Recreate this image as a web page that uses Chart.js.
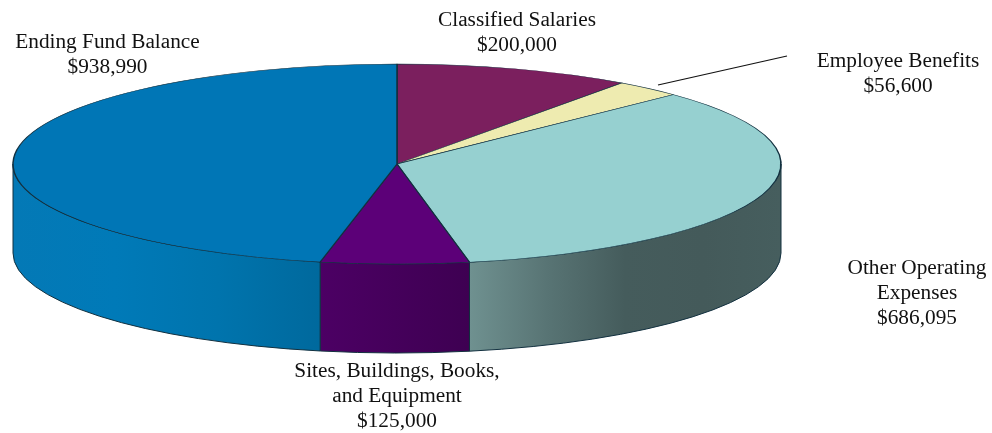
<!DOCTYPE html>
<html>
<head>
<meta charset="utf-8">
<style>
html, body { margin: 0; padding: 0; background: #fff; overflow: hidden; }
canvas { display: block; }
</style>
<script src="https://cdn.jsdelivr.net/npm/chart.js@4/dist/chart.umd.min.js"></script>
</head>
<body>
<canvas id="budgetPie" width="992" height="433"></canvas>
<script>
const categories = ['Classified Salaries', 'Employee Benefits', 'Other Operating Expenses', 'Sites, Buildings, Books, and Equipment', 'Ending Fund Balance'];
const amounts = [200000, 56600, 686095, 125000, 938990];
const topColors = ['#7b1f5e', '#eeebb0', '#96d0d0', '#5c0078', '#0076b6'];
// wall gradient, left to right along the visible front
const wallColors = [
    ['#7b1f5e', '#7b1f5e'],
    ['#eeebb0', '#eeebb0'],
    ['#6f9190', '#587474', '#455c5c', '#445a5a', '#465e5e'],
    ['#4c0064', '#3e0052'],
    ['#0479b6', '#007ab8', '#0074ad', '#00699d']
];
// label lines and anchor point (centre x, first baseline)
const labels = [
    { lines: ['Classified Salaries', '$200,000'], x: 517, y: 26 },
    { lines: ['Employee Benefits', '$56,600'], x: 898, y: 67 },
    { lines: ['Other Operating', 'Expenses', '$686,095'], x: 917, y: 274 },
    { lines: ['Sites, Buildings, Books,', 'and Equipment', '$125,000'], x: 397, y: 377 },
    { lines: ['Ending Fund Balance', '$938,990'], x: 107.5, y: 48 }
];
const leader = [[658, 85], [787, 56]];

const RX = 384;
const RY = 100;
const DEPTH = 89;
const squash = RY / RX;
const outline = '#12303f';

// draws the side of the disc under the flattened slices
function drawWalls(chart) {
    const ctx = chart.ctx;
    chart.getDatasetMeta(0).data.forEach((arc, i) => {
        const p = arc.getProps(['x', 'y', 'startAngle', 'endAngle', 'outerRadius'], true);
        // only the part in front (0..PI in canvas angles) can be seen
        const a0 = Math.max(p.startAngle, 0);
        const a1 = Math.min(p.endAngle, Math.PI);
        if (a1 <= a0) return;
        const xRight = p.x + p.outerRadius * Math.cos(a0);
        const xLeft = p.x + p.outerRadius * Math.cos(a1);
        const grad = ctx.createLinearGradient(xLeft, 0, xRight, 0);
        const stops = wallColors[i];
        stops.forEach((c, n) => grad.addColorStop(n / (stops.length - 1), c));

        ctx.beginPath();
        ctx.ellipse(p.x, p.y + DEPTH, p.outerRadius, p.outerRadius * squash, 0, a0, a1);
        ctx.ellipse(p.x, p.y, p.outerRadius, p.outerRadius * squash, 0, a1, a0, true);
        ctx.closePath();
        ctx.fillStyle = grad;
        ctx.fill();
        ctx.lineWidth = 1;
        ctx.strokeStyle = outline;
        ctx.stroke();
    });
}

const flatPie = {
    id: 'flatPie',
    beforeDatasetDraw(chart) {
        const ctx = chart.ctx;
        const first = chart.getDatasetMeta(0).data[0];
        drawWalls(chart);
        ctx.save();
        ctx.translate(first.x, first.y);
        ctx.scale(1, squash);
        ctx.translate(-first.x, -first.y);
    },
    afterDatasetDraw(chart) {
        chart.ctx.restore();
    },
    afterDraw(chart) {
        const ctx = chart.ctx;
        ctx.save();
        ctx.fillStyle = '#111';
        ctx.font = '21.3px "Liberation Serif"';
        ctx.textAlign = 'center';
        ctx.textBaseline = 'alphabetic';
        labels.forEach(l => {
            l.lines.forEach((t, n) => ctx.fillText(t, l.x, l.y + n * 25));
        });
        ctx.beginPath();
        ctx.moveTo(leader[0][0], leader[0][1]);
        ctx.lineTo(leader[1][0], leader[1][1]);
        ctx.strokeStyle = '#111';
        ctx.lineWidth = 1.2;
        ctx.stroke();
        ctx.restore();
    }
};

new Chart(document.getElementById('budgetPie'), {
    type: 'pie',
    data: {
        labels: categories,
        datasets: [{
            data: amounts,
            backgroundColor: topColors,
            borderColor: outline,
            borderWidth: 1.5,
            borderAlign: 'center',
            radius: RX,
            clip: false
        }]
    },
    plugins: [flatPie],
    options: {
        responsive: false,
        animation: false,
        // puts the pie centre at 397,164 on the 992x433 canvas
        layout: { padding: { right: 198, bottom: 105 } },
        plugins: { legend: { display: false }, tooltip: { enabled: false } }
    }
});
</script>
</body>
</html>
